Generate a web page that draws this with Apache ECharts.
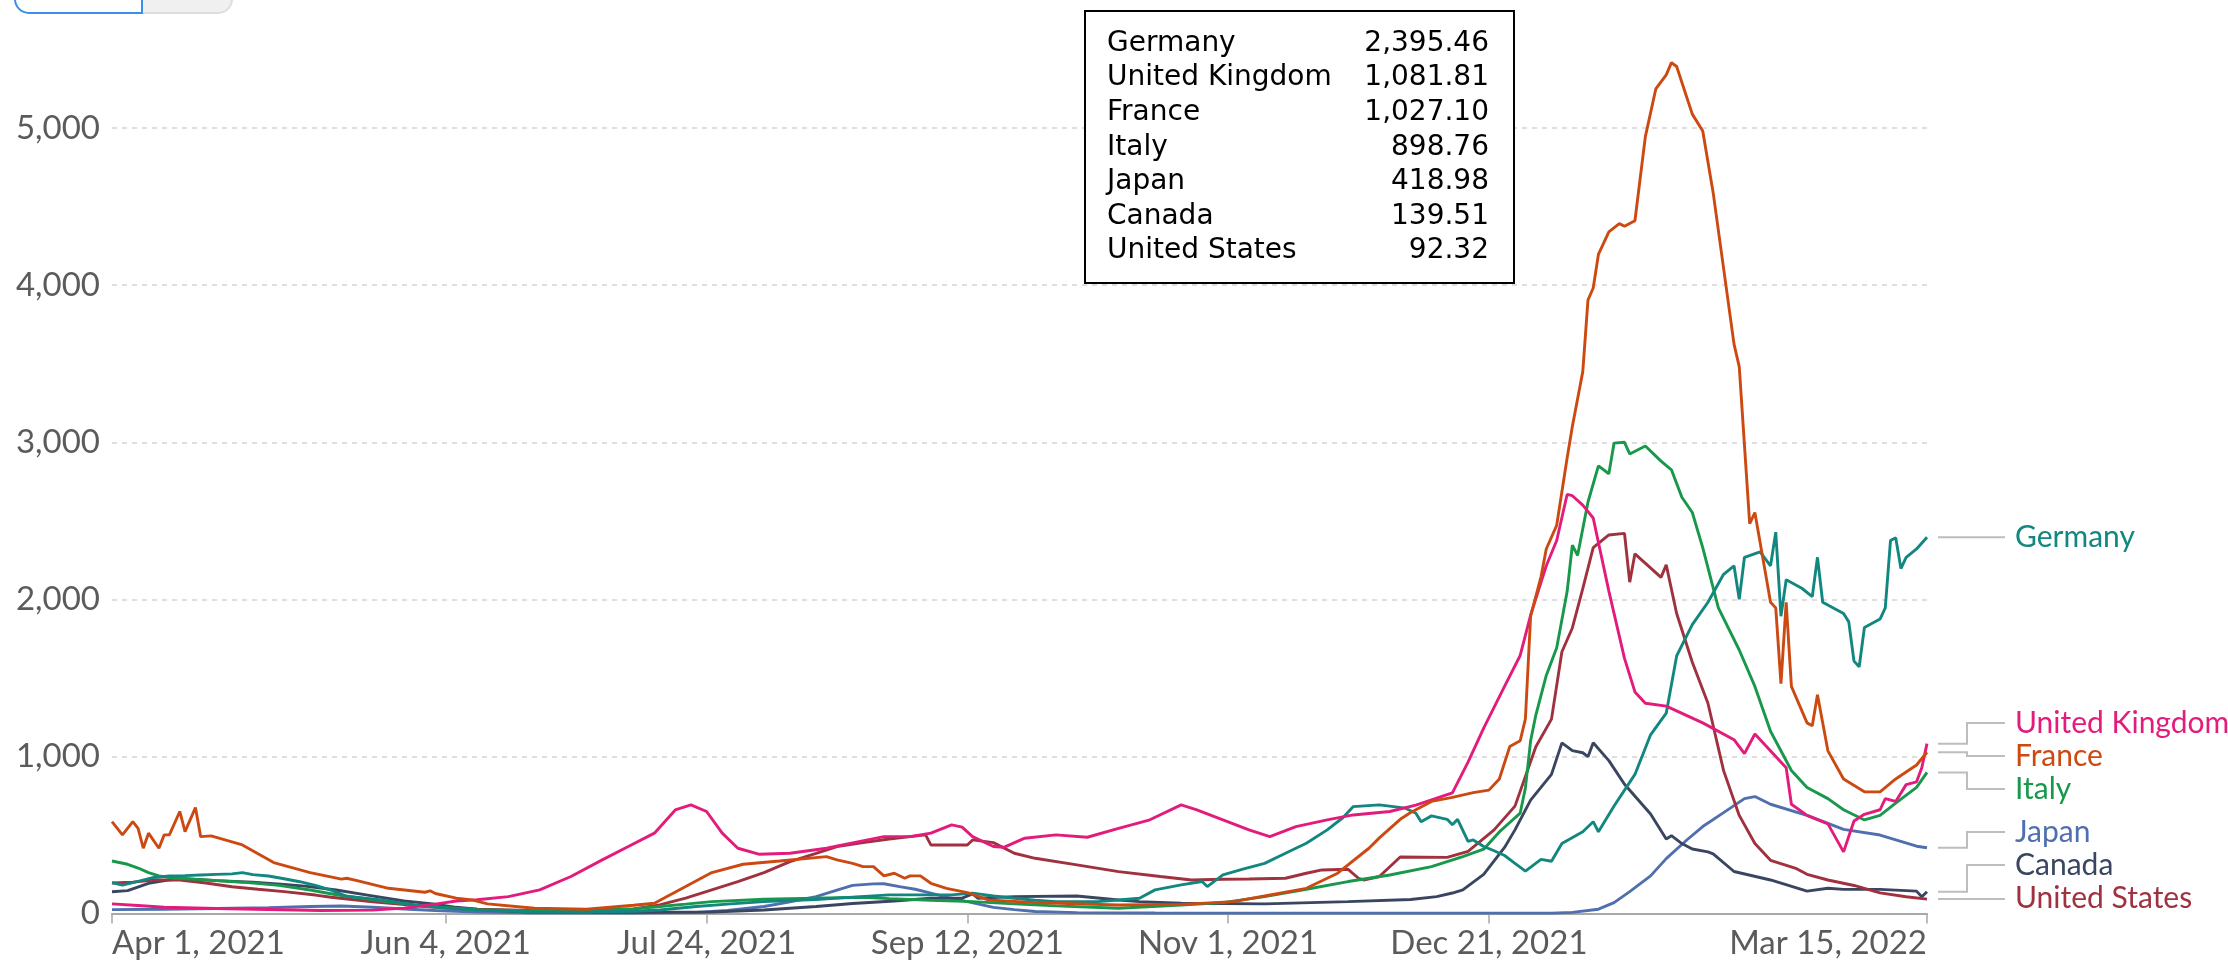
<!DOCTYPE html>
<html>
<head>
<meta charset="utf-8">
<script src="https://cdn.jsdelivr.net/npm/echarts@6/dist/echarts.min.js"></script>
<style>
  html, body { margin: 0; padding: 0; background: #fff; }
  #chart { width: 2228px; height: 970px; }
</style>
</head>
<body>
<div id="chart"></div>
<script>
// x values are day offsets counted from START_DATE (2021-04-01); values are per-day readings.
const START_DATE = '2021-04-01';
const END_DATE = '2022-03-15';

const countries = ['Germany', 'United Kingdom', 'France', 'Italy', 'Japan', 'Canada', 'United States'];
const colors = ['#12877f', '#e31c7c', '#cc4a12', '#17984a', '#4f6fae', '#3a4660', '#a0313f'];

const tickDates = ['2021-04-01', '2021-06-04', '2021-07-24', '2021-09-12', '2021-11-01', '2021-12-21', '2022-03-15'];
const tickLabels = ['Apr 1, 2021', 'Jun 4, 2021', 'Jul 24, 2021', 'Sep 12, 2021', 'Nov 1, 2021', 'Dec 21, 2021', 'Mar 15, 2022'];
const yTicks = [0, 1000, 2000, 3000, 4000, 5000];

const germany = [[0,197],[2,182],[5,205],[8,230],[11,239],[14,242],[17,246],[20,250],[23,253],[25,261],[27,248],[30,239],[33,222],[36,203],[39,180],[42,150],[45,110],[48,100],[52,86],[55,70],[58,55],[62,42],[65,34],[70,22],[80,12],[90,10],[100,15],[105,23],[112,45],[118,60],[125,76],[135,90],[142,105],[149,119],[161,119],[165,130],[169,112],[173,98],[177,85],[181,76],[189,76],[193,87],[197,98],[200,151],[205,183],[209,204],[210,172],[213,246],[217,285],[221,320],[225,384],[229,448],[233,533],[236,610],[238,681],[243,692],[248,671],[250,639],[251,585],[253,622],[256,600],[257,565],[258,600],[260,460],[261,469],[263,427],[265,400],[267,370],[269,320],[271,270],[274,345],[276,333],[278,446],[282,521],[284,585],[285,521],[288,685],[292,886],[295,1138],[298,1276],[300,1640],[303,1839],[306,1982],[309,2160],[311,2214],[312,2000],[313,2268],[316,2303],[318,2214],[319,2428],[320,1893],[321,2125],[324,2071],[326,2018],[327,2268],[328,1982],[332,1910],[333,1857],[334,1607],[335,1571],[336,1821],[339,1875],[340,1946],[341,2375],[342,2393],[343,2196],[344,2268],[346,2321],[348,2395.46]];

const unitedKingdom = [[0,62],[5,52],[10,40],[20,32],[30,26],[40,20],[50,22],[56,35],[62,60],[66,80],[70,88],[76,108],[82,151],[88,236],[94,342],[99,427],[104,512],[108,660],[111,692],[114,650],[117,512],[120,416],[124,378],[130,384],[137,416],[142,450],[148,490],[153,490],[157,512],[161,565],[163,550],[165,490],[169,427],[171,422],[175,480],[181,501],[187,486],[193,543],[199,597],[205,692],[208,660],[213,597],[218,533],[222,490],[227,554],[233,597],[238,628],[245,650],[250,690],[253,724],[257,768],[260,964],[263,1180],[267,1446],[270,1643],[272,1900],[275,2214],[277,2375],[279,2668],[280,2660],[282,2600],[284,2518],[287,2053],[290,1625],[292,1411],[294,1339],[298,1321],[305,1214],[311,1107],[313,1018],[315,1143],[317,1071],[321,928],[322,696],[325,625],[329,571],[332,393],[334,589],[336,632],[339,661],[340,732],[342,714],[344,821],[346,839],[347,928],[348,1081.81]];

const france = [[0,585],[2,501],[4,586],[5,543],[6,416],[7,512],[9,416],[10,501],[11,501],[13,650],[14,522],[16,675],[17,490],[19,495],[25,437],[31,325],[38,261],[44,219],[45,225],[47,210],[53,161],[60,136],[61,145],[62,128],[66,98],[69,87],[72,62],[81,34],[91,28],[100,53],[104,66],[110,172],[115,261],[121,314],[128,335],[137,363],[139,342],[142,320],[144,299],[146,299],[148,240],[150,257],[152,225],[153,240],[155,240],[157,193],[160,161],[164,134],[168,87],[177,70],[193,55],[205,59],[215,76],[221,112],[229,161],[235,257],[241,416],[243,482],[247,600],[249,643],[253,714],[257,740],[261,770],[264,786],[266,857],[268,1063],[270,1100],[271,1240],[272,1894],[274,2145],[275,2321],[277,2472],[279,2900],[280,3100],[282,3450],[283,3906],[284,3982],[285,4196],[287,4339],[289,4392],[290,4375],[292,4410],[294,4946],[296,5249],[298,5339],[299,5417],[300,5392],[303,5089],[305,4982],[307,4589],[311,3625],[312,3482],[314,2482],[315,2553],[318,1982],[319,1946],[320,1464],[321,1982],[322,1446],[325,1214],[326,1196],[327,1393],[329,1036],[332,857],[336,775],[339,775],[342,857],[346,946],[348,1027.10]];

const italy = [[0,335],[3,314],[5,290],[7,261],[9,240],[12,225],[18,215],[25,200],[32,180],[38,150],[43,120],[48,98],[53,75],[58,55],[63,40],[70,25],[80,18],[90,20],[100,30],[105,45],[110,60],[115,76],[125,91],[135,98],[144,104],[149,95],[157,85],[165,76],[173,62],[181,49],[193,34],[205,55],[213,70],[221,108],[229,155],[237,204],[245,246],[253,299],[259,363],[263,410],[266,520],[268,580],[270,640],[271,800],[272,1100],[273,1264],[275,1516],[277,1692],[279,2050],[280,2346],[281,2280],[283,2620],[285,2850],[287,2800],[288,2995],[290,3000],[291,2926],[294,2976],[297,2880],[299,2825],[301,2650],[303,2553],[305,2330],[308,1946],[312,1678],[315,1446],[318,1161],[322,911],[325,803],[329,732],[332,661],[336,596],[339,625],[342,703],[346,803],[348,898.76]];

const japan = [[0,25],[10,28],[20,32],[30,38],[38,45],[44,48],[50,40],[57,28],[62,20],[70,10],[80,5],[100,4],[112,8],[118,20],[125,45],[130,75],[135,108],[139,150],[142,180],[146,189],[148,190],[151,172],[154,155],[157,130],[160,105],[164,76],[169,40],[173,25],[177,13],[185,6],[200,4],[240,3],[276,3],[280,8],[285,28],[288,70],[291,140],[295,240],[298,350],[302,470],[305,554],[309,643],[313,732],[315,745],[318,696],[325,625],[332,536],[339,500],[346,429],[348,418.98]];

const canada = [[0,139],[3,146],[7,193],[11,215],[14,222],[20,210],[27,200],[33,185],[37,175],[43,150],[49,118],[56,80],[62,60],[66,40],[70,28],[80,10],[100,8],[115,10],[125,23],[135,45],[142,64],[150,80],[157,98],[163,98],[165,125],[166,98],[173,108],[185,112],[193,87],[197,76],[205,66],[221,62],[237,76],[249,90],[254,108],[257,131],[259,151],[263,250],[267,421],[269,533],[272,722],[276,886],[278,1087],[280,1037],[282,1024],[283,999],[284,1087],[287,974],[290,823],[295,634],[298,475],[299,496],[301,446],[303,411],[306,393],[307,380],[311,268],[318,214],[325,143],[329,161],[332,154],[339,154],[346,143],[347,107],[348,139.51]];

const unitedStates = [[0,195],[4,200],[8,214],[13,214],[18,195],[23,171],[28,155],[33,140],[39,118],[42,104],[46,90],[50,75],[55,60],[60,45],[65,33],[70,28],[80,20],[90,18],[100,30],[105,55],[110,98],[115,151],[120,204],[125,261],[130,331],[135,384],[139,427],[144,452],[149,475],[156,501],[157,437],[164,437],[165,469],[169,452],[173,384],[177,352],[185,310],[193,267],[201,236],[207,214],[213,219],[218,220],[225,225],[229,257],[232,278],[237,282],[239,225],[240,214],[243,236],[247,360],[256,358],[260,396],[265,533],[269,684],[273,1062],[276,1238],[278,1667],[280,1818],[282,2069],[284,2330],[287,2410],[290,2420],[291,2110],[292,2290],[297,2140],[298,2220],[300,1910],[303,1600],[306,1339],[309,910],[312,625],[315,446],[318,339],[323,286],[325,250],[329,214],[334,179],[339,132],[344,107],[348,92.32]];

const seriesData = [germany, unitedKingdom, france, italy, japan, canada, unitedStates];

const DAY = 86400000;
const START = Date.parse(START_DATE);
const END_DAY = Math.round((Date.parse(END_DATE) - START) / DAY);
const tickDays = tickDates.map(d => Math.round((Date.parse(d) - START) / DAY));

const chart = echarts.init(document.getElementById('chart'), null, { renderer: 'canvas' });

const labelFont = 'Lato';
const axisGray = '#5b5b5b';

const drawOrder = [4, 5, 6, 3, 0, 1, 2];
const series = drawOrder.map(i => ({
  name: countries[i],
  type: 'line',
  data: seriesData[i],
  showSymbol: false,
  symbol: 'none',
  clip: false,
  lineStyle: { color: colors[i], width: 2.9 },
  itemStyle: { color: colors[i] },
  emphasis: { disabled: true },
  z: 3
}));

chart.setOption({
  animation: false,
  backgroundColor: '#ffffff',
  grid: { left: 112, right: 301, top: 128.1, bottom: 56.4 },
  xAxis: {
    type: 'value',
    min: 0,
    max: END_DAY,
    splitLine: { show: false },
    axisLine: { show: true, onZero: false, lineStyle: { color: '#a8a8a8', width: 2 } },
    axisTick: { show: true, customValues: tickDays, length: 10, lineStyle: { color: '#a8a8a8', width: 1.5 } },
    axisLabel: {
      customValues: tickDays,
      hideOverlap: false,
      alignMinLabel: 'left',
      alignMaxLabel: 'right',
      margin: 13,
      fontFamily: labelFont,
      fontSize: 33,
      color: axisGray,
      formatter: function (v) {
        const k = tickDays.indexOf(Math.round(v));
        return k >= 0 ? tickLabels[k] : '';
      }
    }
  },
  yAxis: {
    type: 'value',
    min: yTicks[0],
    max: yTicks[yTicks.length - 1],
    interval: 1000,
    axisLine: { show: false },
    axisTick: { show: false },
    axisLabel: {
      margin: 12,
      fontFamily: labelFont,
      fontSize: 33,
      color: axisGray,
      formatter: v => v.toLocaleString('en-US')
    },
    splitLine: { show: true, lineStyle: { color: '#d4d4d4', width: 1.5, type: [5, 5] } }
  },
  series: series
});

// Right-side labels with connector lines, spread to avoid overlap
function buildGraphics() {
  const items = countries.map((name, i) => {
    const arr = seriesData[i];
    const last = arr[arr.length - 1];
    const p = chart.convertToPixel({ xAxisIndex: 0, yAxisIndex: 0 }, [last[0], last[1]]);
    return { name, color: colors[i], x: p[0], y: p[1], value: last[1] };
  });
  const sorted = items.slice().sort((a, b) => a.y - b.y);
  const gap = 33;
  const place = gr => {
    const mean = gr.items.reduce((s, o) => s + o.y, 0) / gr.items.length;
    return mean - (gr.items.length - 1) * gap / 2;
  };
  let groups = [];
  sorted.forEach(it => {
    groups.push({ items: [it] });
    while (groups.length > 1) {
      const g = groups[groups.length - 1];
      const prev = groups[groups.length - 2];
      if (place(prev) + prev.items.length * gap > place(g)) {
        prev.items = prev.items.concat(g.items);
        groups.pop();
      } else break;
    }
  });
  const pos = [];
  groups.forEach(gr => {
    const top = place(gr);
    gr.items.forEach((it, k) => { it.ly = top + k * gap; pos.push(it); });
  });
  const maxY = 898;
  for (let k = pos.length - 1; k >= 0; k--) {
    const limit = k === pos.length - 1 ? maxY : pos[k + 1].ly - gap;
    if (pos[k].ly > limit) pos[k].ly = limit;
  }

  const g = [];
  pos.forEach(it => {
    const x0 = it.x + 11, xe = it.x + 40, x1 = it.x + 78;
    let pts;
    if (Math.abs(it.ly - it.y) < 1.5) pts = [[x0, it.y], [x1, it.y]];
    else pts = [[x0, it.y], [xe, it.y], [xe, it.ly], [x1, it.ly]];
    g.push({ type: 'polyline', shape: { points: pts }, style: { stroke: '#bdbdbd', lineWidth: 2, fill: null }, z: 10 });
    g.push({ type: 'text', x: it.x + 88, y: it.ly, style: { text: it.name, fill: it.color, font: '30px Lato', verticalAlign: 'middle', align: 'left' }, z: 10 });
  });

  // Value box (tooltip-like table) on top of chart
  const boxX = 1085, boxY = 11, boxW = 429, boxH = 272;
  g.push({ type: 'rect', shape: { x: boxX, y: boxY, width: boxW, height: boxH }, style: { fill: '#ffffff', stroke: '#000000', lineWidth: 2 }, z: 20 });
  items.forEach((it, k) => {
    const yy = boxY + 32.5 + k * 34.6;
    g.push({ type: 'text', x: boxX + 22, y: yy, style: { text: it.name, fill: '#000', font: '28px "DejaVu Sans"', verticalAlign: 'middle', align: 'left' }, z: 21 });
    g.push({ type: 'text', x: boxX + 404, y: yy, style: { text: it.value.toLocaleString('en-US', { minimumFractionDigits: 2, maximumFractionDigits: 2 }), fill: '#000', font: '28px "DejaVu Sans"', verticalAlign: 'middle', align: 'right' }, z: 21 });
  });

  // partially visible toggle buttons at top-left
  g.push({ type: 'rect', shape: { x: 142, y: -30, width: 90, height: 43, r: [0, 0, 14, 0] }, style: { fill: '#f0f0f0', stroke: '#dedede', lineWidth: 2 }, z: 20 });
  g.push({ type: 'rect', shape: { x: 15, y: -30, width: 127, height: 43, r: [0, 0, 0, 14] }, style: { fill: '#ffffff', stroke: '#3d8ee6', lineWidth: 2 }, z: 21 });

  chart.setOption({ graphic: g });
}
buildGraphics();
</script>
</body>
</html>
